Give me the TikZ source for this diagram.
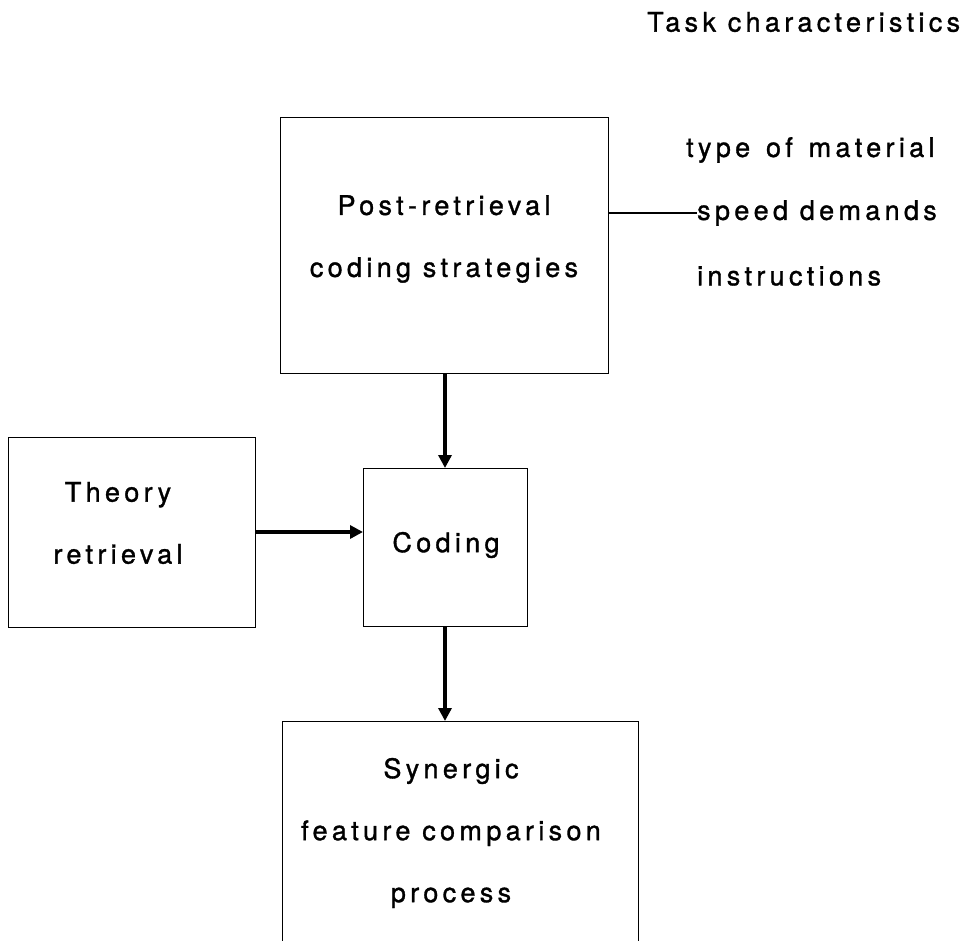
\documentclass[tikz,border=0pt]{standalone}
\usepackage{fontspec}
\setmainfont{TeX Gyre Heros}[LetterSpace=16,FakeBold=1.2]
\usetikzlibrary{arrows.meta}
\begin{document}
\begin{tikzpicture}[x=1pt,y=-1pt,
  every node/.style={font=\fontsize{27}{62}\selectfont},
  box/.style={draw, line width=1.3pt, rectangle, inner sep=0pt, anchor=north west},
  txt/.style={inner sep=0pt, align=center},
  lbl/.style={inner sep=0pt, anchor=west},
  arr/.style={line width=3.6pt, -{Triangle[length=13pt,width=13pt]}}
]
\clip (0,0) rectangle (967,941);
\fill[white] (0,0) rectangle (967,941);

\node[box, minimum width=328pt, minimum height=256pt] (post) at (280,117) {};
\node[txt] (posttext) at (444,239) {Post-retrieval\\coding strategies};
\node[box, minimum width=247pt, minimum height=190pt] (theory) at (8,437) {};
\node[txt] (theorytext) at (118,523) {Theory\\retrieval};
\node[box, minimum width=164pt, minimum height=158pt] (coding) at (363,468) {};
\node[txt] (codingtext) at (446,545) {Coding};
\node[box, minimum width=356pt, minimum height=250pt] (syn) at (282,721) {};
\node[txt] (syntext) at (451,833) {Synergic\\feature comparison\\process};

\node[lbl] (task) at (647,22) {Task characteristics};
\node[lbl] (type) at (686,150) {type\hspace{4pt} of\hspace{4pt} material};
\node[lbl] (spd) at (697,213) {speed demands};
\node[lbl] (inst) at (697,276) {instructions};

\draw[line width=1.3pt] (post.east |- spd.west) -- (spd.west);
\draw[arr] (post.south -| 445,0) -- (coding.north -| 445,0);
\draw[arr] (theory.east |- 0,532) -- (coding.west |- 0,532);
\draw[arr] (coding.south -| 445,0) -- (syn.north -| 445,0);
\end{tikzpicture}
\end{document}
